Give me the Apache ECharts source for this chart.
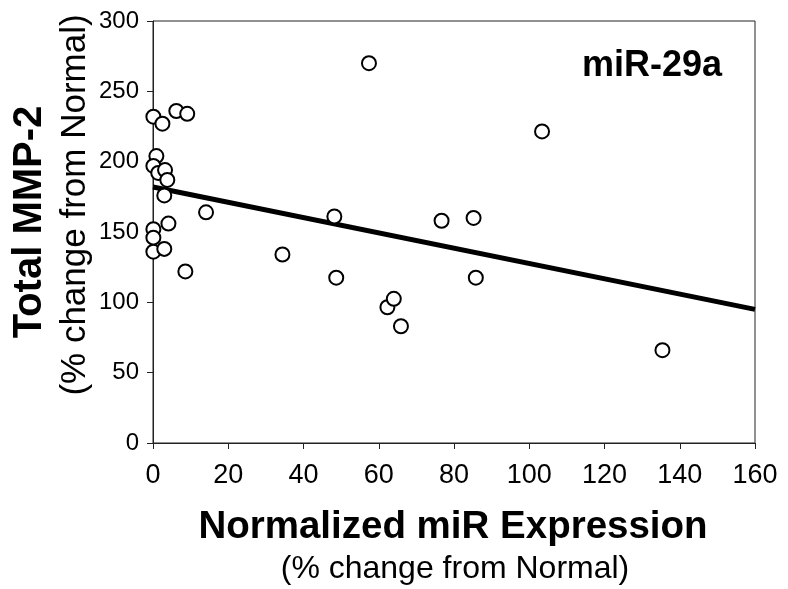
<!DOCTYPE html>
<html>
<head>
<meta charset="utf-8">
<script src="https://cdn.jsdelivr.net/npm/echarts@6/dist/echarts.min.js"></script>
<style>html,body{margin:0;padding:0;background:#fff}#c{width:788px;height:589px}</style>
</head>
<body>
<div id="c"></div>
<script>
var mirExpression = [0.1, 2.5, 6.2, 9.1, 0.9, 0.1, 1.4, 3.2, 3.8, 3.0, 4.1, 0.1, 0.1, 0.1, 3.0, 8.6, 14.1, 34.4, 48.2, 48.7, 57.4, 62.3, 64.0, 65.9, 76.7, 85.2, 85.8, 103.4, 135.4];
var totalMMP2   = [232, 227, 236, 234, 204, 197, 192, 194, 187, 176, 156, 152, 146, 136, 138, 122, 164, 134, 161, 117.5, 270, 96.5, 102.5, 83, 158, 160, 117.5, 221.5, 66];
var trendX = [0, 160];
var trendY = [182, 95];
var xTicks = [0, 20, 40, 60, 80, 100, 120, 140, 160];
var yTicks = [0, 50, 100, 150, 200, 250, 300];

var pts = mirExpression.map(function (x, i) { return [x, totalMMP2[i]]; });
var trend = trendX.map(function (x, i) { return [x, trendY[i]]; });
var FONT = '"Liberation Sans", Arial, sans-serif';

var chart = echarts.init(document.getElementById('c'), null, {renderer: 'canvas'});
chart.setOption({
  animation: false,
  backgroundColor: '#fff',
  grid: {left: 153, right: 33, top: 21, bottom: 146, show: true, borderColor: '#222', borderWidth: 1},
  xAxis: {
    type: 'value', min: xTicks[0], max: xTicks[xTicks.length - 1], interval: 20,
    axisLine: {show: true, onZero: false, lineStyle: {color: '#222', width: 1}},
    axisTick: {show: true, inside: false, length: 6, lineStyle: {color: '#222'}},
    axisLabel: {fontFamily: FONT, fontSize: 27, color: '#000', margin: 19},
    splitLine: {show: false}
  },
  yAxis: {
    type: 'value', min: yTicks[0], max: yTicks[yTicks.length - 1], interval: 50,
    axisLine: {show: true, onZero: false, lineStyle: {color: '#222', width: 1}},
    axisTick: {show: true, inside: false, length: 6, lineStyle: {color: '#222'}},
    axisLabel: {fontFamily: FONT, fontSize: 24, color: '#000', margin: 14},
    splitLine: {show: false}
  },
  series: [
    {
      type: 'line', data: trend, symbol: 'none', z: 2,
      lineStyle: {color: '#000', width: 5}
    },
    {
      type: 'scatter', data: pts, symbol: 'circle', symbolSize: 14, z: 3,
      itemStyle: {color: '#fff', borderColor: '#000', borderWidth: 2, opacity: 1}
    }
  ],
  graphic: [
    {type: 'text', right: 66, top: 48, z: 10,
     style: {text: 'miR-29a', fontFamily: FONT, fontWeight: 'bold', fontSize: 36, fill: '#000'}},
    {type: 'text', x: 453, y: 527, z: 10,
     style: {text: 'Normalized miR Expression', fontFamily: FONT, fontWeight: 'bold', fontSize: 38.5, fill: '#000', align: 'center', verticalAlign: 'middle'}},
    {type: 'text', x: 455, y: 569, z: 10,
     style: {text: '(% change from Normal)', fontFamily: FONT, fontSize: 32, fill: '#000', align: 'center', verticalAlign: 'middle'}},
    {type: 'text', x: 30, y: 222, rotation: Math.PI / 2, z: 10,
     style: {text: 'Total MMP-2', fontFamily: FONT, fontWeight: 'bold', fontSize: 40, fill: '#000', align: 'center', verticalAlign: 'middle'}},
    {type: 'text', x: 75, y: 205, rotation: Math.PI / 2, z: 10,
     style: {text: '(% change from Normal)', fontFamily: FONT, fontSize: 35, fill: '#000', align: 'center', verticalAlign: 'middle'}}
  ]
});
</script>
</body>
</html>
